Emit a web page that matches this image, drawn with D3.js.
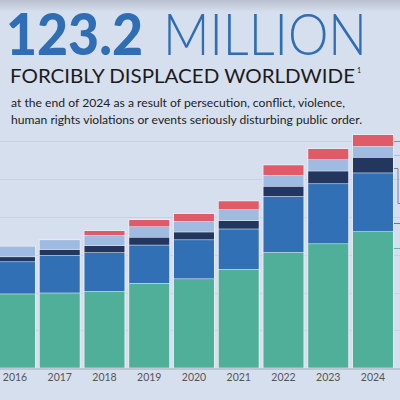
<!DOCTYPE html>
<html>
<head>
<meta charset="utf-8">
<script src="https://cdn.jsdelivr.net/npm/d3@7"></script>
<style>
  html, body { margin: 0; padding: 0; background: #d6dfee; }
  svg { display: block; }
</style>
</head>
<body>
<div id="chart"></div>
<script>
// years on the axis
var years = ['2016', '2017', '2018', '2019', '2020', '2021', '2022', '2023', '2024'];
// millions (bottom to top)
var idps = [39.1, 39.6, 40.4, 44.7, 47.1, 52.1, 61.0, 65.6, 72.0];
var refugees = [17.0, 19.8, 20.5, 20.2, 20.6, 21.3, 29.6, 31.7, 31.0];
var asylum = [2.6, 3.1, 3.7, 4.1, 4.1, 4.4, 5.3, 6.7, 8.2];
var unrwa = [5.6, 5.2, 5.4, 5.6, 5.6, 5.8, 5.8, 6.0, 5.8];
var others = [0, 0, 2.5, 3.7, 4.1, 4.6, 5.5, 5.8, 6.2];
var gridTicks = [20, 40, 60, 80, 100, 120];

var keys = ['idps', 'refugees', 'asylum', 'unrwa', 'others'];
var colors = { idps: '#50af98', refugees: '#3270b6', asylum: '#22365e', unrwa: '#9fbbe1', others: '#e05a67' };

var rows = years.map(function(y, i) {
  return { year: y, idps: idps[i], refugees: refugees[i], asylum: asylum[i], unrwa: unrwa[i], others: others[i] };
});

var width = 400, height = 400;
var svg = d3.select('#chart').append('svg').attr('width', width).attr('height', height);

var defs = svg.append('defs');
var grad = defs.append('linearGradient').attr('id', 'topshade').attr('x1', 0).attr('x2', 0).attr('y1', 0).attr('y2', 1);
grad.append('stop').attr('offset', '0%').attr('stop-color', '#b9c0cf');
grad.append('stop').attr('offset', '100%').attr('stop-color', '#d6dfee');

svg.append('rect').attr('width', width).attr('height', height).attr('fill', '#d6dfee');
svg.append('rect').attr('width', width).attr('height', 12).attr('fill', 'url(#topshade)');

// title block
var title = svg.append('text').attr('y', 54.5).attr('fill', '#2f6db5')
    .style('font-family', 'Lato, sans-serif');
title.append('tspan').attr('x', 6).attr('font-size', 57).attr('font-weight', 900)
    .attr('textLength', 137).attr('lengthAdjust', 'spacingAndGlyphs').text('123.2');
title.append('tspan').attr('x', 163).attr('font-size', 57).attr('font-weight', 300)
    .attr('textLength', 204).attr('lengthAdjust', 'spacingAndGlyphs').text('MILLION');

svg.append('text').attr('x', 10).attr('y', 82.5).attr('fill', '#1b1b1b')
    .style('font-family', 'Lato, sans-serif').attr('font-size', 20)
    .attr('textLength', 345).attr('lengthAdjust', 'spacingAndGlyphs')
    .text('FORCIBLY DISPLACED WORLDWIDE');
svg.append('text').attr('x', 357).attr('y', 73).attr('fill', '#1b1b1b')
    .style('font-family', 'Lato, sans-serif').attr('font-size', 7).text('1');

var sub = [
  'at the end of 2024 as a result of persecution, conflict, violence,',
  'human rights violations or events seriously disturbing public order.'
];
var subW = [334, 351];
sub.forEach(function(s, i) {
  svg.append('text').attr('x', 11).attr('y', 107 + i * 16.5).attr('fill', '#222')
      .style('font-family', 'Lato, sans-serif').attr('font-size', 11.5)
      .attr('textLength', subW[i]).attr('lengthAdjust', 'spacingAndGlyphs').text(s);
});

// scales
var x = d3.scaleBand().domain(years).range([-7.4, 395.35]).paddingInner(0.106).paddingOuter(0.053);
var y = d3.scaleLinear().domain([0, 123.2]).range([368.3, 135]);

var g = svg.append('g');

g.selectAll('.grid').data(gridTicks).enter().append('line')
    .attr('class', 'grid')
    .attr('x1', 0).attr('x2', width)
    .attr('y1', function(d) { return Math.round(y(d)) + 0.5; })
    .attr('y2', function(d) { return Math.round(y(d)) + 0.5; })
    .attr('stroke', '#c9d1e2').attr('stroke-width', 1);

var stack = d3.stack().keys(keys);
var series = stack(rows);

// pale outline round each bar
g.selectAll('.outline').data(rows).enter().append('rect')
    .attr('class', 'outline')
    .attr('x', function(d) { return x(d.year) - 1; })
    .attr('width', x.bandwidth() + 2)
    .attr('y', function(d) { return y(d3.sum(keys, function(k) { return d[k]; })) - 1; })
    .attr('height', function(d) { return y(0) - y(d3.sum(keys, function(k) { return d[k]; })) + 1; })
    .attr('fill', '#e6eaf4');

var layers = g.selectAll('.layer').data(series).enter().append('g')
    .attr('class', 'layer')
    .attr('fill', function(d) { return colors[d.key]; });

layers.selectAll('rect').data(function(d) { return d; }).enter().append('rect')
    .attr('x', function(d) { return x(d.data.year); })
    .attr('width', x.bandwidth())
    .attr('y', function(d) { return y(d[1]); })
    .attr('height', function(d) { return Math.max(0, y(d[0]) - y(d[1]) - (d[1] - d[0] > 0 ? 0.6 : 0)); });

// baseline
g.append('line').attr('x1', 0).attr('x2', width)
    .attr('y1', 369).attr('y2', 369)
    .attr('stroke', '#b5bccb').attr('stroke-width', 1.5);

// year labels
var xAxis = d3.axisBottom(x).tickSize(0).tickPadding(4);
var ax = g.append('g').attr('transform', 'translate(0,369.5)').call(xAxis);
ax.select('.domain').remove();
ax.selectAll('text')
    .style('font-family', 'Lato, sans-serif').attr('font-size', 10.5).attr('fill', '#555');

// leader lines toward the (cropped) legend on the right
var last = series.map(function(s) { return s[s.length - 1]; });
var x2024 = x('2024') + x.bandwidth();
function lead(v, col) {
  var yy = Math.round(y(v)) + 0.5;
  g.append('line').attr('x1', x2024 + 1).attr('x2', width)
      .attr('y1', yy).attr('y2', yy)
      .attr('stroke', col).attr('stroke-width', 1).attr('opacity', 0.85);
}
lead((last[4][0] + last[4][1]) / 2, colors.others);
lead((last[3][0] + last[3][1]) / 2 - 1.5, colors.unrwa);
lead(last[1][1] - 26.3, colors.refugees);
lead(last[0][1] - 8.5, colors.idps);
// bracket for the refugee total
var by1 = Math.round(y(last[2][1] - 5.4)) + 0.5, by2 = Math.round(y(last[1][1] - 15.7)) + 0.5;
g.append('path')
    .attr('d', 'M' + (x2024 + 1) + ',' + by1 + 'H398V' + by2 + 'H' + width)
    .attr('fill', 'none').attr('stroke', '#7b8294').attr('stroke-width', 1);
</script>
</body>
</html>
